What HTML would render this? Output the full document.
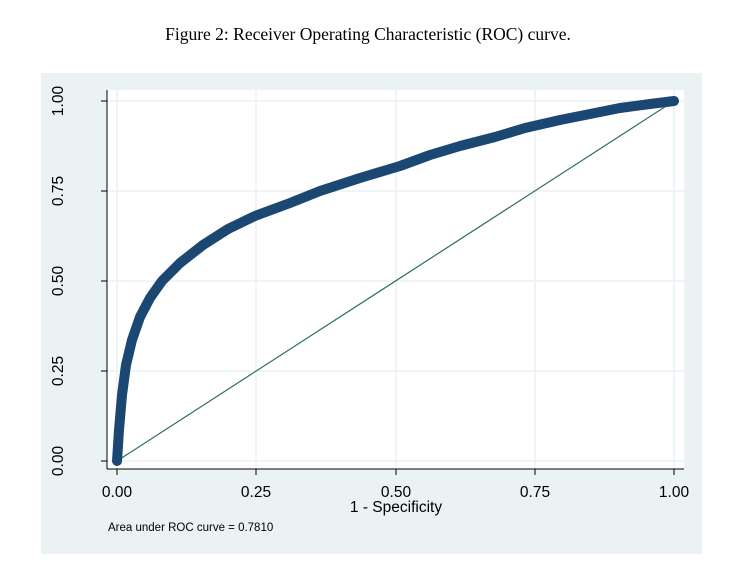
<!DOCTYPE html>
<html><head><style>body{margin:0;background:#fff}</style></head><body>
<svg width="736" height="582" xmlns="http://www.w3.org/2000/svg" font-family="Liberation Sans, sans-serif">
<text x="368" y="40" text-anchor="middle" font-family="Liberation Serif, serif" font-size="17.5">Figure 2: Receiver Operating Characteristic (ROC) curve.</text>
<rect x="41" y="73" width="661" height="481" fill="#eaf2f3"/>
<rect x="107" y="90" width="577" height="379" fill="#fff"/>
<g stroke="#eaf2f3" stroke-width="1.5">
<line x1="117" y1="90" x2="117" y2="469"/><line x1="256" y1="90" x2="256" y2="469"/><line x1="396" y1="90" x2="396" y2="469"/><line x1="535" y1="90" x2="535" y2="469"/><line x1="674" y1="90" x2="674" y2="469"/>
<line x1="107" y1="101" x2="684" y2="101"/><line x1="107" y1="191" x2="684" y2="191"/><line x1="107" y1="281" x2="684" y2="281"/><line x1="107" y1="371" x2="684" y2="371"/><line x1="107" y1="461" x2="684" y2="461"/>
</g>
<g stroke="#000" stroke-width="1">
<line x1="107" y1="90" x2="107" y2="469"/><line x1="107" y1="469" x2="684" y2="469"/>
<line x1="101" y1="101" x2="107" y2="101"/><line x1="101" y1="191" x2="107" y2="191"/><line x1="101" y1="281" x2="107" y2="281"/><line x1="101" y1="371" x2="107" y2="371"/><line x1="101" y1="461" x2="107" y2="461"/>
<line x1="117" y1="469" x2="117" y2="475"/><line x1="256" y1="469" x2="256" y2="475"/><line x1="396" y1="469" x2="396" y2="475"/><line x1="535" y1="469" x2="535" y2="475"/><line x1="674" y1="469" x2="674" y2="475"/>
</g>
<g font-size="15.5" text-anchor="middle">
<text x="117" y="497">0.00</text><text x="256" y="497">0.25</text><text x="396" y="497">0.50</text><text x="535" y="497">0.75</text><text x="674" y="497">1.00</text>
<text x="396" y="512">1 - Specificity</text>
<text transform="translate(63,101) rotate(-90)">1.00</text>
<text transform="translate(63,191) rotate(-90)">0.75</text>
<text transform="translate(63,281) rotate(-90)">0.50</text>
<text transform="translate(63,371) rotate(-90)">0.25</text>
<text transform="translate(63,461) rotate(-90)">0.00</text>
</g>
<text x="108" y="531" font-size="11.5">Area under ROC curve = 0.7810</text>
<line x1="117" y1="461" x2="674" y2="101" stroke="#2f6d5c" stroke-width="1.2"/>
<path d="M117,461 L119,430 L122,395 L126,365 L132,340 L140,317 L150,298 L162,281 L180,263 L203,245 L228,229 L255,216 L290,203 L320,191 L360,178 L400,166 L430,155 L460,146 L495,137 L525,128 L560,120 L590,114 L620,108 L650,104 L674,101" fill="none" stroke="#1a4872" stroke-width="10" stroke-linejoin="round" stroke-linecap="round"/>
</svg>
</body></html>
